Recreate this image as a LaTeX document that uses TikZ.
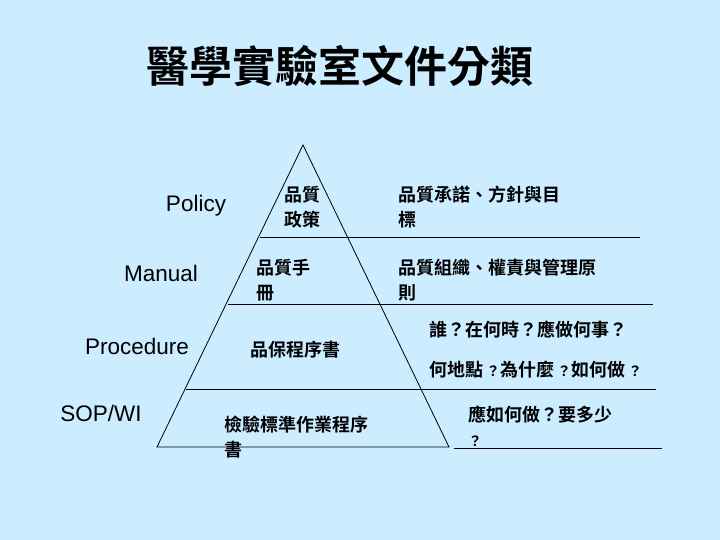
\documentclass[tikz,border=0pt]{standalone}
\usepackage{fontspec}
\setmainfont{Liberation Sans}
\newfontfamily\cjk{Noto Sans CJK TC}[BoldFont={* Bold}]
\definecolor{bg}{RGB}{204,236,255}
\begin{document}
\begin{tikzpicture}[x=1pt,y=-1pt,
  lat/.style={anchor=center,font=\fontsize{22.5}{24}\selectfont},
  ch/.style={anchor=west,font=\cjk\bfseries\fontsize{18}{25}\selectfont,align=left,inner sep=0pt},
  ln/.style={line width=0.8pt}]
\fill[bg] (0,0) rectangle (720,540);
\node (title) at (340,66) {\cjk\bfseries\fontsize{43}{45}\selectfont 醫學實驗室文件分類};
% pyramid
\coordinate (apex) at (303,145);
\coordinate (bl) at (157,447);
\coordinate (br) at (449,447);
\draw[ln] (apex) -- (bl) -- (br) -- cycle;
\coordinate (a1) at (260,237); \coordinate (b1) at (640,237);
\coordinate (a2) at (228,304); \coordinate (b2) at (653,304);
\coordinate (a3) at (186,389); \coordinate (b3) at (656,389);
\coordinate (a4) at (454,448); \coordinate (b4) at (662,448);
\draw[ln] (a1) -- (b1);
\draw[ln] (a2) -- (b2);
\draw[ln] (a3) -- (b3);
\draw[ln] (a4) -- (b4);
% left labels
\node[lat] (p) at (196,206) {Policy};
\node[lat] (m) at (161,273) {Manual};
\node[lat] (pr) at (137,346) {Procedure};
\node[lat] (s) at (101,413) {SOP/WI};
% inside
\node[ch] (t1) at (284,207) {品質\\政策};
\node[ch] (t2) at (256,280) {品質手\\冊};
\node[ch] (t3) at (250,350) {品保程序書};
\node[ch] (t4) at (224,437) {檢驗標準作業程序\\書};
% right
\node[ch] (r1) at (398,207) {品質承諾、方針與目\\標};
\node[ch] (r2) at (398,280) {品質組織、權責與管理原\\則};
\node[ch] (r3) at (429,330) {誰？在何時？應做何事？};
\node[ch] (r4) at (429,370) {何地點\,{\fontsize{14}{15}\selectfont ？}為什麼\,{\fontsize{14}{15}\selectfont ？}如何做\,{\fontsize{14}{15}\selectfont ？}};
\node[ch] (r5) at (468,426) {應如何做？要多少\\{\fontsize{14}{15}\selectfont ？}};
\end{tikzpicture}
\end{document}
